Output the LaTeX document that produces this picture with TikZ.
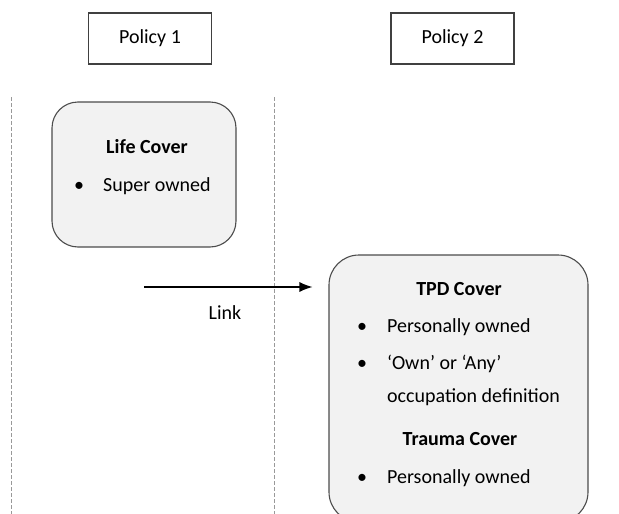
\documentclass[tikz,border=0pt]{standalone}
\usepackage{fontspec}
\setmainfont{Carlito}
\usetikzlibrary{arrows.meta,positioning}

\newcommand{\covfont}{\fontsize{20}{24}\selectfont}
\tikzset{>={Latex[length=13pt,width=10pt]},
	policy/.style={draw=black!75, line width=1.1pt, minimum width=123pt,
		minimum height=51pt, inner sep=0pt},
	cover/.style={draw=black!70, line width=1.1pt, fill=black!5,
		rounded corners=26pt, inner sep=0pt},
	divider/.style={draw=black!40, dash pattern=on 4pt off 2pt, line width=0.8pt},
	txt/.style={inner sep=0pt, text height=14pt, text depth=4pt},
	head/.style={txt, font=\covfont\bfseries},
	item/.style={txt, anchor=west}}

\begin{document}
\begin{tikzpicture}[x=1pt, y=-1pt, font=\covfont]
	\useasboundingbox (0,0) rectangle (619,514);
	% policy headers
	\node[policy] (pol1) at (150,38.5) {Policy 1};
	\node[policy] (pol2) at (452.5,38.5) {Policy 2};
	% column dividers
	\draw[divider] (11,97) -- (11,514);
	\draw[divider] (274,97) -- (274,514);
	% policy 1
	\node[cover, minimum width=184pt, minimum height=145pt] (life) at (144,174.5) {};
	\node[head] (lifehead) at (147,148) {Life Cover};
	\node[txt] (lifeb1) at (79,186) {\textbullet};
	\node[item] (lifei1) at (103,186) {Super owned};
	% policy 2
	\node[cover, rounded corners=30pt, minimum width=259pt, minimum height=267pt]
		(tpd) at (458.5,388.5) {};
	\node[head] (tpdhead) at (459,290) {TPD Cover};
	\node[txt] (tpdb1) at (362,327) {\textbullet};
	\node[item] (tpdi1) at (387,327) {Personally owned};
	\node[txt] (tpdb2) at (362,364) {\textbullet};
	\node[item] (tpdi2) at (387,364) {‘Own’ or ‘Any’};
	\node[item] (tpdi2b) at (387,397) {occupation definition};
	\node[head] (traumahead) at (460,440) {Trauma Cover};
	\node[txt] (traumab1) at (362,478) {\textbullet};
	\node[item] (traumai1) at (387,478) {Personally owned};
	% link
	\coordinate (linkstart) at (144,287);
	\draw[->, line width=1.2pt] (linkstart) -- ([xshift=-16pt]tpd.west |- linkstart);
	\node[txt] (link) at (225,314) {Link};
\end{tikzpicture}
\end{document}
